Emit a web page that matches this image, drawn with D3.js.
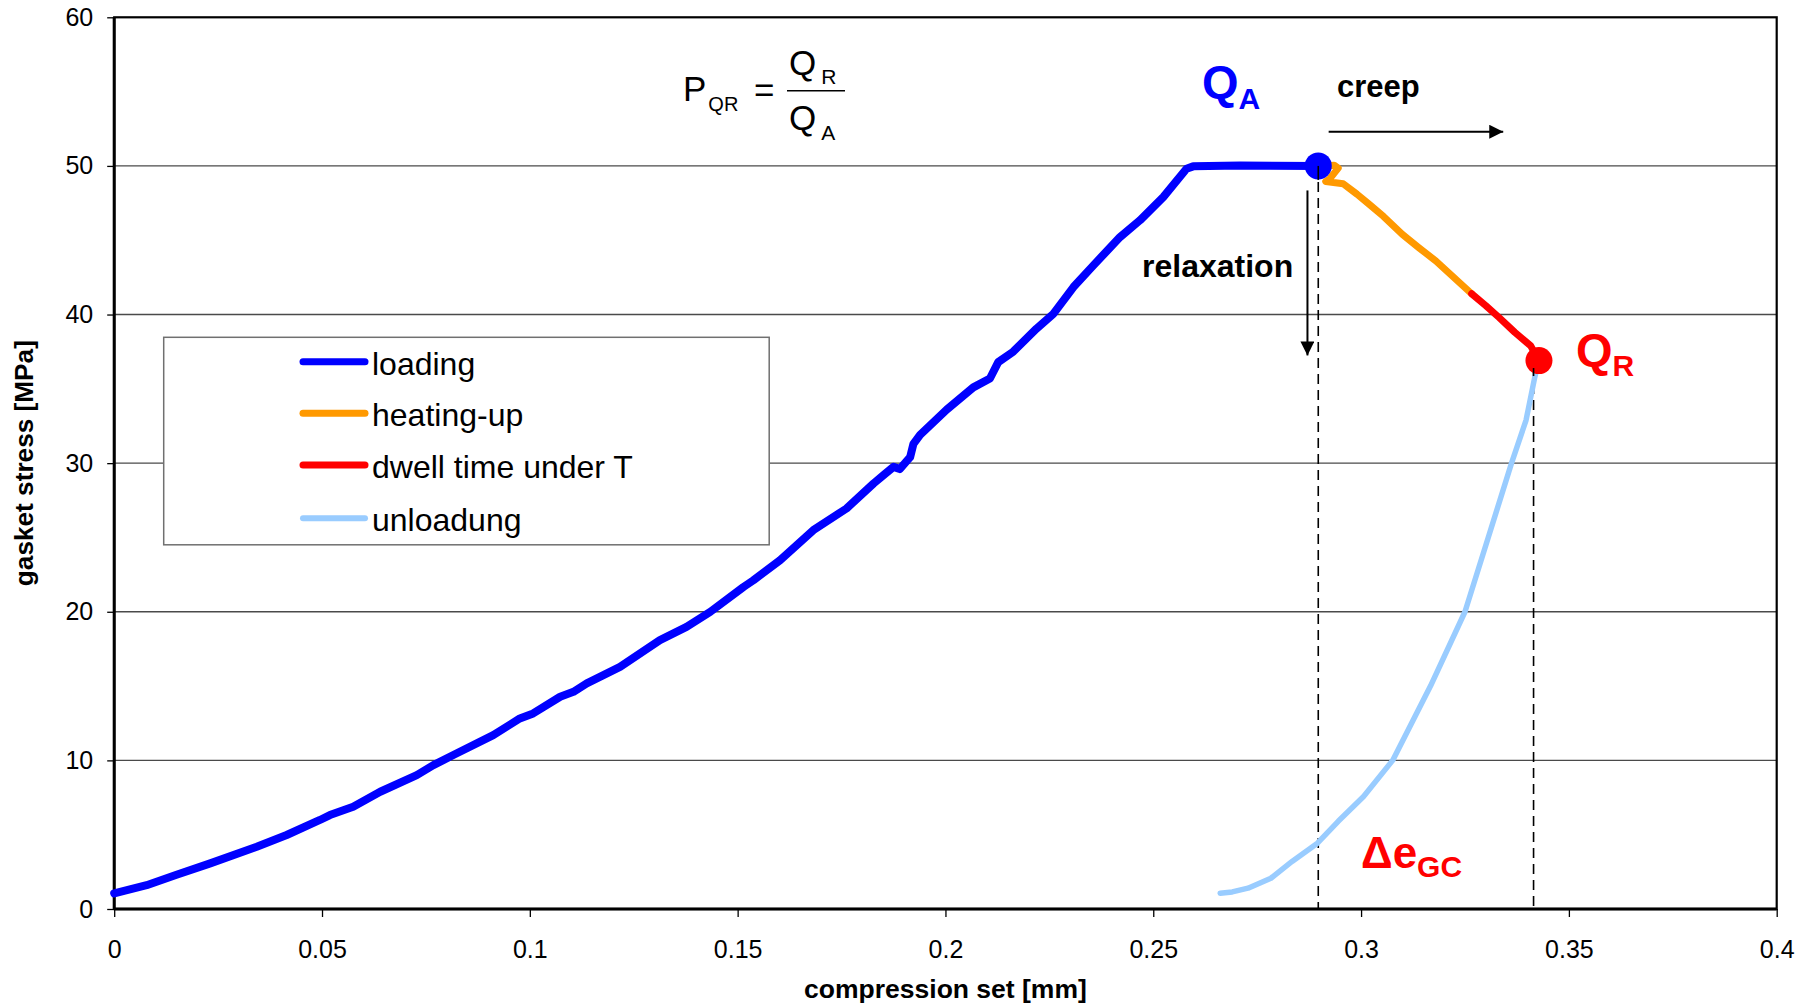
<!DOCTYPE html>
<html>
<head>
<meta charset="utf-8">
<script src="https://cdn.jsdelivr.net/npm/d3@7"></script>
<style>
  html, body { margin: 0; padding: 0; background: #fff; }
  svg { display: block; font-family: "Liberation Sans", Arial, sans-serif; }
</style>
</head>
<body>
<svg id="chart" width="1809" height="1007"></svg>
<script>
// ---- data ----
const xTicks = [0, 0.05, 0.1, 0.15, 0.2, 0.25, 0.3, 0.35, 0.4];
const xTickLabels = ["0", "0.05", "0.1", "0.15", "0.2", "0.25", "0.3", "0.35", "0.4"];
const yTicks = [0, 10, 20, 30, 40, 50, 60];
const seriesNames = ["loading", "heating-up", "dwell time under T", "unloadung"];
const seriesColors = ["#0000FF", "#FF9900", "#FF0000", "#99CCFF"];

const loading = [
  [0,1.05],[0.0078,1.6],[0.015,2.3],[0.0231,3.07],[0.0343,4.19],[0.0415,4.98],
  [0.0495,5.99],[0.0519,6.32],[0.0575,6.88],[0.064,7.89],[0.0728,9.01],[0.0768,9.68],
  [0.0816,10.36],[0.0912,11.7],[0.0976,12.82],[0.1008,13.16],[0.1073,14.28],[0.1105,14.61],
  [0.1137,15.18],[0.1217,16.29],[0.1313,18.09],[0.1377,18.98],[0.1434,19.99],[0.1514,21.67],
  [0.1538,22.12],[0.1602,23.47],[0.1682,25.49],[0.1762,26.95],[0.1827,28.63],[0.1851,29.19],
  [0.1875,29.75],[0.189,29.6],[0.1915,30.4],[0.1923,31.3],[0.1939,31.9],[0.2003,33.6],
  [0.2067,35.1],[0.2107,35.7],[0.2127,36.8],[0.2163,37.5],[0.2219,39.05],[0.226,40.06],
  [0.2308,41.85],[0.2356,43.31],[0.242,45.21],[0.2468,46.34],[0.2524,47.9],[0.258,49.81],
  [0.2596,49.97],[0.2709,50.03],[0.2897,50.0]
];
const heatingUp = [
  [0.2897,50.0],[0.2935,50.05],[0.2945,49.85],[0.2925,49.15],[0.2915,48.95],[0.2957,48.8],
  [0.299,48.1],[0.3018,47.45],[0.3054,46.6],[0.3099,45.4],[0.3139,44.5],[0.318,43.6],[0.3266,41.4]
];
const dwell = [
  [0.3266,41.4],[0.33,40.6],[0.3332,39.8],[0.337,38.8],[0.3408,37.9],[0.3428,36.9]
];
const unloading = [
  [0.3428,36.9],[0.3418,35.8],[0.3397,32.9],[0.3362,30],[0.3306,25],[0.325,20],[0.3167,15],
  [0.3076,10],[0.3006,7.57],[0.2945,5.9],[0.2895,4.43],[0.2834,3.2],[0.2783,2.07],
  [0.2728,1.4],[0.269,1.15],[0.2661,1.06]
];
const pointQA = [0.2897, 50.0];
const pointQR = [0.3428, 36.9];
const dashQA = [0.2897, 50.0];
const dashQR = [0.3415, 36.4];
const relaxArrow = [[0.2871, 48.35], [0.2871, 37.25]];
const creepArrow = [[0.2922, 52.3], [0.3342, 52.3]];

// ---- layout ----
const svg = d3.select("#chart");
const L = 114.2, R = 1776.7, T = 17.3, B = 909;
const x = d3.scaleLinear().domain([0, 0.4]).range([L, R]);
const y = d3.scaleLinear().domain([0, 60]).range([B, T]);

// grid lines
svg.append("g").selectAll("line").data(yTicks.filter(v => v > 0 && v < 60)).join("line")
  .attr("x1", L).attr("x2", R).attr("y1", d => y(d)).attr("y2", d => y(d))
  .attr("stroke", "#4a4a4a").attr("stroke-width", 1.4);

// axes
const xAxis = d3.axisBottom(x).tickValues(xTicks).tickFormat((d, i) => xTickLabels[i])
  .tickSize(8).tickSizeOuter(0).tickPadding(23);
const gx = svg.append("g").attr("transform", `translate(0,${B})`).call(xAxis);
gx.select(".domain").remove();
gx.selectAll("line").attr("stroke", "#000").attr("stroke-width", 1.3);
gx.selectAll("text").attr("font-size", 25).attr("fill", "#000").attr("font-family", "Liberation Sans, Arial, sans-serif");

const yAxis = d3.axisLeft(y).tickValues(yTicks).tickSize(7).tickSizeOuter(0).tickPadding(14);
const gy = svg.append("g").attr("transform", `translate(${L},0)`).call(yAxis);
gy.select(".domain").remove();
gy.selectAll("line").attr("stroke", "#000").attr("stroke-width", 1.3);
gy.selectAll("text").attr("font-size", 25).attr("fill", "#000").attr("font-family", "Liberation Sans, Arial, sans-serif");

// frame
svg.append("rect").attr("x", L).attr("y", T).attr("width", R - L).attr("height", B - T)
  .attr("fill", "none").attr("stroke", "#000").attr("stroke-width", 2.2);
svg.append("line").attr("x1", L).attr("x2", L).attr("y1", T).attr("y2", B)
  .attr("stroke", "#000").attr("stroke-width", 3);
svg.append("line").attr("x1", L).attr("x2", R).attr("y1", B).attr("y2", B)
  .attr("stroke", "#000").attr("stroke-width", 3);

// axis titles
svg.append("text").attr("x", (L + R) / 2).attr("y", 998).attr("text-anchor", "middle")
  .attr("font-size", 26.5).attr("font-weight", "bold").text("compression set [mm]");
svg.append("text").attr("transform", `translate(33,${(T + B) / 2}) rotate(-90)`)
  .attr("text-anchor", "middle").attr("font-size", 26.2).attr("font-weight", "bold")
  .text("gasket stress [MPa]");

// legend
const lg = svg.append("g");
lg.append("rect").attr("x", 163.7).attr("y", 337.3).attr("width", 605.5).attr("height", 207.5)
  .attr("fill", "#fff").attr("stroke", "#707070").attr("stroke-width", 1.5);
const rowsY = [361.7, 413.3, 465, 518.3];
seriesNames.forEach((name, i) => {
  lg.append("line").attr("x1", 303).attr("x2", 365).attr("y1", rowsY[i]).attr("y2", rowsY[i])
    .attr("stroke", seriesColors[i]).attr("stroke-width", i === 3 ? 6 : 7).attr("stroke-linecap", "round");
  lg.append("text").attr("x", 372).attr("y", rowsY[i] + 13).attr("font-size", 32).text(name);
});

// dashed lines
const dashStyle = sel => sel.attr("stroke", "#000").attr("stroke-width", 1.6).attr("stroke-dasharray", "10,6");
svg.append("line").attr("x1", x(dashQA[0])).attr("x2", x(dashQA[0])).attr("y1", y(dashQA[1])).attr("y2", y(0)).call(dashStyle);
svg.append("line").attr("x1", x(dashQR[0])).attr("x2", x(dashQR[0])).attr("y1", y(dashQR[1])).attr("y2", y(0)).call(dashStyle);

// arrows
const defs = svg.append("defs");
defs.append("marker").attr("id", "arr").attr("viewBox", "0 0 10 10").attr("refX", 10).attr("refY", 5)
  .attr("markerWidth", 16).attr("markerHeight", 14).attr("markerUnits", "userSpaceOnUse")
  .attr("orient", "auto").append("path").attr("d", "M0,0 L10,5 L0,10 Z").attr("fill", "#000");
[relaxArrow, creepArrow].forEach(a => {
  svg.append("line").attr("x1", x(a[0][0])).attr("y1", y(a[0][1])).attr("x2", x(a[1][0])).attr("y2", y(a[1][1]))
    .attr("stroke", "#000").attr("stroke-width", 2).attr("marker-end", "url(#arr)");
});

// curves
const line = d3.line().x(d => x(d[0])).y(d => y(d[1]));
const curves = [
  [loading, seriesColors[0], 8],
  [heatingUp, seriesColors[1], 7],
  [dwell, seriesColors[2], 7],
  [unloading, seriesColors[3], 5.5]
];
curves.forEach(([data, color, w]) => {
  svg.append("path").datum(data).attr("d", line).attr("fill", "none").attr("stroke", color)
    .attr("stroke-width", w).attr("stroke-linejoin", "round").attr("stroke-linecap", "round");
});

// points
svg.append("circle").attr("cx", x(pointQA[0])).attr("cy", y(pointQA[1])).attr("r", 13.5).attr("fill", "#0000FF");
svg.append("circle").attr("cx", x(pointQR[0])).attr("cy", y(pointQR[1])).attr("r", 13.5).attr("fill", "#FF0000");
svg.append("line").attr("x1", x(dashQA[0])).attr("x2", x(dashQA[0])).attr("y1", y(dashQA[1])).attr("y2", y(dashQA[1]) + 14).attr("stroke", "#000").attr("stroke-width", 1.6);
svg.append("line").attr("x1", x(dashQR[0])).attr("x2", x(dashQR[0])).attr("y1", y(dashQR[1])).attr("y2", y(dashQR[1]) + 8).attr("stroke", "#000").attr("stroke-width", 1.6);

// annotation texts
svg.append("text").attr("x", 1142).attr("y", 277).attr("font-size", 32).attr("font-weight", "bold").text("relaxation");
svg.append("text").attr("x", 1337).attr("y", 97).attr("font-size", 31).attr("font-weight", "bold").text("creep");

const qa = svg.append("text").attr("x", 1202).attr("y", 98).attr("fill", "#0000FF").attr("font-weight", "bold");
qa.append("tspan").attr("font-size", 47).text("Q");
qa.append("tspan").attr("font-size", 30).attr("dy", 11).text("A");

const qr = svg.append("text").attr("x", 1576).attr("y", 366).attr("fill", "#FF0000").attr("font-weight", "bold");
qr.append("tspan").attr("font-size", 47).text("Q");
qr.append("tspan").attr("font-size", 30).attr("dy", 10).text("R");

const de = svg.append("text").attr("x", 1361).attr("y", 868).attr("fill", "#FF0000").attr("font-weight", "bold");
de.append("tspan").attr("font-size", 44).text("Δe");
de.append("tspan").attr("font-size", 30).attr("dy", 9).text("GC");

// formula P_QR = Q_R / Q_A
const f = svg.append("g").attr("font-size", 35);
const p = f.append("text").attr("x", 683).attr("y", 101);
p.append("tspan").text("P");
p.append("tspan").attr("font-size", 20).attr("dy", 10).attr("dx", 2).text("QR");
f.append("text").attr("x", 754).attr("y", 102).text("=");
f.append("line").attr("x1", 787).attr("x2", 845).attr("y1", 90.7).attr("y2", 90.7).attr("stroke", "#000").attr("stroke-width", 1.5);
const num = f.append("text").attr("x", 789).attr("y", 75);
num.append("tspan").text("Q");
num.append("tspan").attr("font-size", 21).attr("dy", 9).attr("dx", 5).text("R");
const den = f.append("text").attr("x", 789).attr("y", 130);
den.append("tspan").text("Q");
den.append("tspan").attr("font-size", 21).attr("dy", 10).attr("dx", 5).text("A");
</script>
</body>
</html>
